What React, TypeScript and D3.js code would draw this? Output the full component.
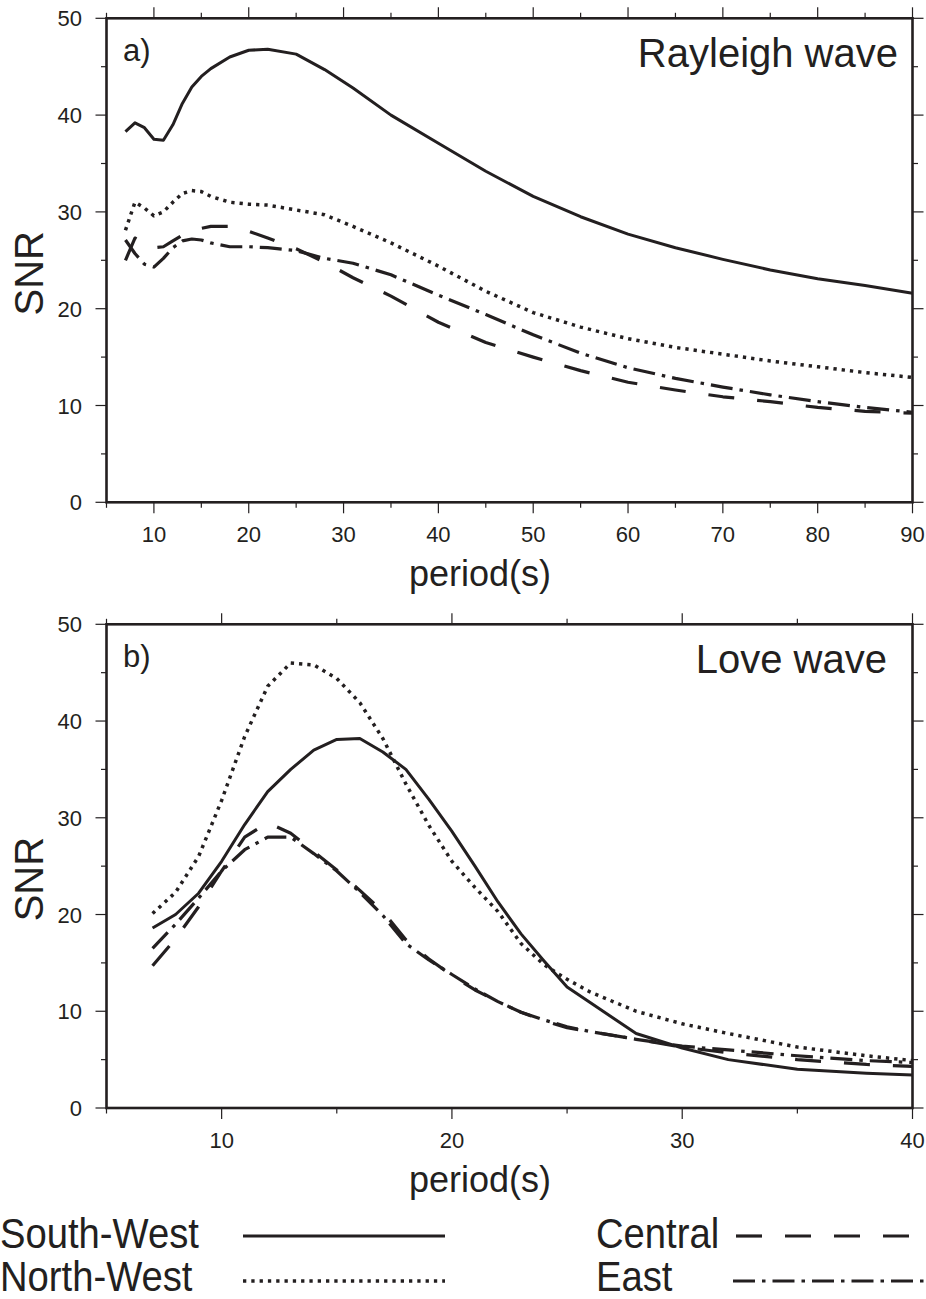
import React from 'react'
import * as d3 from 'd3'

// panel a) Rayleigh wave
const periodsA = [7, 8, 9, 10, 11, 12, 13, 14, 15, 16, 18, 20, 22, 25, 28, 31, 35, 40, 45, 50, 55, 60, 65, 70, 75, 80, 85, 90]
const southWestA = [38.3, 39.2, 38.7, 37.5, 37.4, 39.0, 41.2, 42.9, 44.0, 44.8, 46.0, 46.7, 46.8, 46.3, 44.7, 42.8, 40.0, 37.1, 34.2, 31.6, 29.5, 27.7, 26.3, 25.1, 24.0, 23.1, 22.4, 21.6]
const northWestA = [28.1, 31.0, 30.4, 29.6, 30.0, 31.0, 31.9, 32.2, 32.1, 31.6, 31.0, 30.8, 30.7, 30.2, 29.7, 28.5, 26.8, 24.4, 21.8, 19.6, 18.1, 16.9, 16.0, 15.3, 14.6, 14.0, 13.4, 12.9]
const centralA = [25.0, 27.3, 26.8, 26.3, 26.4, 27.0, 27.6, 28.0, 28.3, 28.5, 28.5, 28.0, 27.3, 26.2, 24.8, 23.2, 21.3, 18.6, 16.5, 15.0, 13.6, 12.4, 11.6, 10.9, 10.4, 9.8, 9.4, 9.2]
const eastA = [27.1, 25.7, 24.6, 24.3, 25.2, 26.3, 27.0, 27.2, 27.1, 26.8, 26.4, 26.4, 26.3, 26.0, 25.2, 24.7, 23.5, 21.4, 19.4, 17.3, 15.4, 13.9, 12.8, 11.9, 11.1, 10.4, 9.8, 9.3]

// panel b) Love wave
const periodsB = [7, 8, 9, 10, 11, 12, 13, 14, 15, 16, 17, 18, 19, 20, 21, 22, 23, 24, 25, 26, 28, 30, 32, 35, 38, 40]
const southWestB = [18.6, 20.0, 22.2, 25.5, 29.3, 32.7, 35.0, 37.0, 38.1, 38.2, 36.8, 35.0, 31.9, 28.6, 25.0, 21.3, 18.0, 15.2, 12.5, 10.9, 7.7, 6.2, 5.0, 4.0, 3.6, 3.4]
const northWestB = [20.1, 22.3, 26.0, 31.8, 38.4, 43.6, 46.0, 45.8, 44.4, 41.9, 38.2, 33.5, 29.2, 25.5, 22.8, 20.3, 17.0, 14.8, 13.3, 12.0, 10.0, 8.7, 7.7, 6.3, 5.4, 4.9]
const centralB = [14.7, 17.5, 20.8, 24.5, 28.0, 29.5, 28.4, 26.5, 24.6, 22.5, 20.3, 17.4, 15.4, 13.7, 12.2, 11.0, 9.9, 9.0, 8.3, 7.9, 7.1, 6.3, 5.7, 5.0, 4.5, 4.3]
const eastB = [16.5, 19.0, 21.7, 24.5, 26.7, 28.0, 28.0, 26.3, 24.5, 22.3, 19.9, 17.0, 15.3, 13.8, 12.3, 11.0, 9.9, 9.1, 8.4, 7.9, 7.1, 6.4, 6.0, 5.4, 4.9, 4.7]

const regions = ['South-West', 'North-West', 'Central', 'East']

const ink = '#231f20'
const font = '"Liberation Sans", Arial, Helvetica, sans-serif'

const lineStyle: Record<string, { dash?: string; w: number }> = {
  'South-West': { w: 3 },
  'North-West': { dash: '3.3,5', w: 3.5 },
  Central: { dash: '26,23', w: 3.2 },
  East: { dash: '22,7,3.5,7', w: 3.2 },
}

const left = 106.5
const right = 912.5

function Panel({ top, bottom, xMax, periods, series, tag, title, titleX }: any) {
  const x = d3.scaleLinear().domain([5, xMax]).range([left, right])
  const y = d3.scaleLinear().domain([0, 50]).range([bottom, top])
  const xt = d3.range(5, xMax + 0.1, 5)
  const yt = d3.range(0, 50.1, 5)
  const line = d3
    .line<number>()
    .x((_, i) => x(periods[i]))
    .y(d => y(d))
  const len = (v: number) => (v % 10 === 0 ? 11 : 5.5)
  return (
    <g>
      {xt.map(v => (
        <g key={'x' + v} stroke={ink} strokeWidth={1.2}>
          <line x1={x(v)} x2={x(v)} y1={bottom} y2={bottom + len(v)} />
          <line x1={x(v)} x2={x(v)} y1={top} y2={top - len(v)} />
        </g>
      ))}
      {yt.map(v => (
        <g key={'y' + v} stroke={ink} strokeWidth={1.2}>
          <line x1={left} x2={left - len(v)} y1={y(v)} y2={y(v)} />
          <line x1={right} x2={right + len(v)} y1={y(v)} y2={y(v)} />
        </g>
      ))}
      {xt.filter(v => v % 10 === 0).map(v => (
        <text key={'xl' + v} x={x(v)} y={bottom + 40} textAnchor="middle" fontSize={22} fill={ink}>
          {v}
        </text>
      ))}
      {yt.filter(v => v % 10 === 0).map(v => (
        <text key={'yl' + v} x={82} y={y(v) + 8} textAnchor="end" fontSize={22} fill={ink}>
          {v}
        </text>
      ))}
      {regions.map((r, i) => (
        <path
          key={r}
          d={line(series[i]) || ''}
          fill="none"
          stroke={ink}
          strokeWidth={lineStyle[r].w}
          strokeDasharray={lineStyle[r].dash}
          strokeLinejoin="round"
        />
      ))}
      <rect x={left} y={top} width={right - left} height={bottom - top} fill="none" stroke={ink} strokeWidth={2.6} />
      <text x={123} y={top + 43} fontSize={31} fill={ink}>
        {tag}
      </text>
      <text x={titleX} y={top + 48.5} textAnchor="end" fontSize={40} fill={ink}>
        {title}
      </text>
      <text x={480} y={bottom + 84} textAnchor="middle" fontSize={36} fill={ink}>
        period(s)
      </text>
      <text
        transform={`translate(43,${(top + bottom) / 2 + 13}) rotate(-90)`}
        textAnchor="middle"
        fontSize={40}
        fill={ink}
      >
        SNR
      </text>
    </g>
  )
}

export default function App() {
  const legend = [
    { r: 'South-West', tx: 0, lx: 243, lw: 445, y: 1236, base: 1247.5 },
    { r: 'North-West', tx: 0, lx: 243, lw: 445, y: 1281, base: 1290.5 },
    { r: 'Central', tx: 596, lx: 736, lw: 926, y: 1236, base: 1247.5 },
    { r: 'East', tx: 596, lx: 733, lw: 926, y: 1281, base: 1290.5 },
  ]
  return (
    <svg
      width={926}
      height={1299}
      style={{ position: 'absolute', left: 0, top: 0, background: '#fff' }}
      fontFamily={font}
    >
      <Panel
        top={18.3}
        bottom={502.3}
        xMax={90}
        periods={periodsA}
        series={[southWestA, northWestA, centralA, eastA]}
        tag="a)"
        title="Rayleigh wave"
        titleX={898}
      />
      <Panel
        top={624.3}
        bottom={1108}
        xMax={40}
        periods={periodsB}
        series={[southWestB, northWestB, centralB, eastB]}
        tag="b)"
        title="Love wave"
        titleX={887}
      />
      {legend.map(l => (
        <g key={l.r}>
          <text
            transform={`translate(${l.tx},${l.base}) scale(0.91,1)`}
            fontSize={42}
            fill={ink}
          >
            {l.r}
          </text>
          <line
            x1={l.lx}
            x2={l.lw}
            y1={l.y}
            y2={l.y}
            stroke={ink}
            strokeWidth={lineStyle[l.r].w}
            strokeDasharray={lineStyle[l.r].dash}
          />
        </g>
      ))}
    </svg>
  )
}
